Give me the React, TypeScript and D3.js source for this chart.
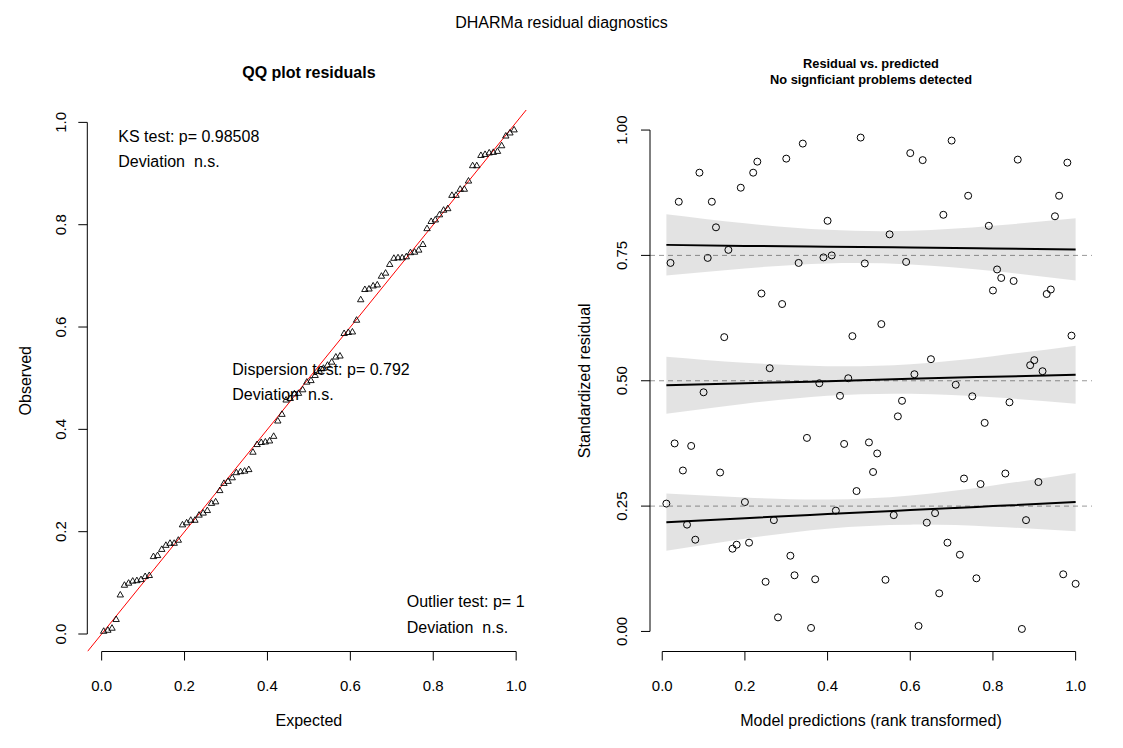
import React from 'react';
import * as d3 from 'd3';

// Rank-transformed model predictions and scaled residuals
const predictions = [
  0.01, 0.02, 0.03, 0.04, 0.05, 0.06, 0.07, 0.08, 0.09, 0.10,
  0.11, 0.12, 0.13, 0.14, 0.15, 0.16, 0.17, 0.18, 0.19, 0.20,
  0.21, 0.22, 0.23, 0.24, 0.25, 0.26, 0.27, 0.28, 0.29, 0.30,
  0.31, 0.32, 0.33, 0.34, 0.35, 0.36, 0.37, 0.38, 0.39, 0.40,
  0.41, 0.42, 0.43, 0.44, 0.45, 0.46, 0.47, 0.48, 0.49, 0.50,
  0.51, 0.52, 0.53, 0.54, 0.55, 0.56, 0.57, 0.58, 0.59, 0.60,
  0.61, 0.62, 0.63, 0.64, 0.65, 0.66, 0.67, 0.68, 0.69, 0.70,
  0.71, 0.72, 0.73, 0.74, 0.75, 0.76, 0.77, 0.78, 0.79, 0.80,
  0.81, 0.82, 0.83, 0.84, 0.85, 0.86, 0.87, 0.88, 0.89, 0.90,
  0.91, 0.92, 0.93, 0.94, 0.95, 0.96, 0.97, 0.98, 0.99, 1.00,
];
const residuals = [
  0.255, 0.735, 0.375, 0.857, 0.321, 0.213, 0.370, 0.183, 0.915, 0.477,
  0.745, 0.857, 0.806, 0.317, 0.587, 0.761, 0.165, 0.173, 0.885, 0.258,
  0.177, 0.915, 0.937, 0.674, 0.099, 0.525, 0.222, 0.028, 0.653, 0.943,
  0.151, 0.112, 0.735, 0.973, 0.386, 0.007, 0.104, 0.495, 0.746, 0.819,
  0.750, 0.241, 0.470, 0.374, 0.505, 0.589, 0.280, 0.985, 0.734, 0.377,
  0.318, 0.355, 0.613, 0.103, 0.792, 0.232, 0.429, 0.460, 0.737, 0.954,
  0.513, 0.011, 0.940, 0.217, 0.543, 0.236, 0.076, 0.831, 0.177, 0.979,
  0.492, 0.153, 0.305, 0.869, 0.469, 0.106, 0.294, 0.416, 0.809, 0.680,
  0.722, 0.705, 0.315, 0.457, 0.699, 0.941, 0.005, 0.222, 0.531, 0.541,
  0.298, 0.519, 0.673, 0.682, 0.828, 0.869, 0.114, 0.935, 0.590, 0.095,
];

// Quantile regression fits with confidence bands
const bandX = [0.01, 0.2, 0.4, 0.6, 0.8, 1.0];
const q25Fit = [0.218, 0.226, 0.234, 0.242, 0.250, 0.258];
const q25Lower = [0.161, 0.185, 0.205, 0.213, 0.209, 0.200];
const q25Upper = [0.275, 0.267, 0.263, 0.271, 0.291, 0.316];
const q50Fit = [0.491, 0.495, 0.499, 0.504, 0.508, 0.512];
const q50Lower = [0.434, 0.454, 0.470, 0.474, 0.467, 0.454];
const q50Upper = [0.548, 0.536, 0.529, 0.533, 0.549, 0.570];
const q75Fit = [0.771, 0.769, 0.7675, 0.766, 0.764, 0.762];
const q75Lower = [0.710, 0.724, 0.734, 0.732, 0.719, 0.700];
const q75Upper = [0.832, 0.814, 0.801, 0.799, 0.809, 0.824];
const quantileLevels = [0.25, 0.5, 0.75];

const unitTicks = [0, 0.2, 0.4, 0.6, 0.8, 1.0];
const unitTickLabels = ['0.0', '0.2', '0.4', '0.6', '0.8', '1.0'];
const residTicks = [0, 0.25, 0.5, 0.75, 1.0];
const residTickLabels = ['0.00', '0.25', '0.50', '0.75', '1.00'];

const ksText = ['KS test: p= 0.98508', 'Deviation  n.s.'];
const dispText = ['Dispersion test: p= 0.792', 'Deviation  n.s.'];
const outText = ['Outlier test: p= 1', 'Deviation  n.s.'];

const FONT = '"Liberation Sans", Arial, Helvetica, sans-serif';

function rExtent(vals: number[]): [number, number] {
  const [a, b] = d3.extent(vals) as [number, number];
  const pad = (b - a) * 0.04;
  return [a - pad, b + pad];
}

export default function App() {
  const W = 1123, H = 748;
  const top = 110, bottom = 651.5;
  const L = { x0: 87.3, x1: 530.5 };
  const R = { x0: 650, x1: 1092 };

  const n = residuals.length;
  const observed = [...residuals].sort(d3.ascending);
  const expected = observed.map((_, i) => (i + 0.5) / n);

  const lx = d3.scaleLinear().domain(rExtent(expected)).range([L.x0, L.x1]);
  const ly = d3.scaleLinear().domain(rExtent(observed)).range([bottom, top]);
  const rx = d3.scaleLinear().domain(rExtent(predictions)).range([R.x0, R.x1]);
  const ry = d3.scaleLinear().domain(rExtent([0, 1])).range([bottom, top]);

  const tri = (() => {
    const s = 6.4, h = s * 0.866;
    return `M0,${-h * 2 / 3}L${s / 2},${h / 3}L${-s / 2},${h / 3}Z`;
  })();

  // red 1:1 line clipped to left plot region
  const [dx0, dx1] = lx.domain();
  const [dy0, dy1] = ly.domain();
  const a0 = Math.max(dx0, dy0), a1 = Math.min(dx1, dy1);

  const bands = [
    { lo: q25Lower, hi: q25Upper, fit: q25Fit },
    { lo: q50Lower, hi: q50Upper, fit: q50Fit },
    { lo: q75Lower, hi: q75Upper, fit: q75Fit },
  ];
  const area = d3.area<number>()
    .x((_, i) => rx(bandX[i]))
    .curve(d3.curveNatural);
  const line = d3.line<number>()
    .x((_, i) => rx(bandX[i]))
    .y((d) => ry(d))
    .curve(d3.curveNatural);

  const tickLen = 9;
  const pre = { whiteSpace: 'pre' as const };

  return (
    <svg width={W} height={H} style={{ position: 'absolute', left: 0, top: 0, background: '#fff' }}
      fontFamily={FONT}>
      <defs>
        <clipPath id="clipL"><rect x={L.x0} y={top} width={L.x1 - L.x0} height={bottom - top} /></clipPath>
        <clipPath id="clipR"><rect x={R.x0} y={top} width={R.x1 - R.x0} height={bottom - top} /></clipPath>
      </defs>

      <text x={561.5} y={27.5} textAnchor="middle" fontSize={16}>DHARMa residual diagnostics</text>

      {/* ---------- Left: QQ plot ---------- */}
      <text x={(L.x0 + L.x1) / 2} y={78} textAnchor="middle" fontSize={16} fontWeight="bold">QQ plot residuals</text>

      <line x1={lx(a0)} y1={ly(a0)} x2={lx(a1)} y2={ly(a1)} stroke="#ff0000" strokeWidth={1} clipPath="url(#clipL)" />

      {observed.map((o, i) => (
        <path key={i} d={tri} transform={`translate(${lx(expected[i])},${ly(o)})`}
          fill="none" stroke="#000" strokeWidth={0.9} />
      ))}

      {/* x axis */}
      <line x1={lx(0)} x2={lx(1)} y1={bottom} y2={bottom} stroke="#000" />
      {unitTicks.map((t, i) => (
        <g key={i}>
          <line x1={lx(t)} x2={lx(t)} y1={bottom} y2={bottom + tickLen} stroke="#000" />
          <text x={lx(t)} y={690.5} textAnchor="middle" fontSize={15}>{unitTickLabels[i]}</text>
        </g>
      ))}
      {/* y axis */}
      <line x1={L.x0} x2={L.x0} y1={ly(0)} y2={ly(1)} stroke="#000" />
      {unitTicks.map((t, i) => (
        <g key={i}>
          <line x1={L.x0 - tickLen} x2={L.x0} y1={ly(t)} y2={ly(t)} stroke="#000" />
          <text transform={`translate(${65.5},${ly(t)}) rotate(-90)`} textAnchor="middle" fontSize={15}>{unitTickLabels[i]}</text>
        </g>
      ))}
      <text x={(L.x0 + L.x1) / 2} y={726} textAnchor="middle" fontSize={16}>Expected</text>
      <text transform={`translate(30.5,${(top + bottom) / 2}) rotate(-90)`} textAnchor="middle" fontSize={16}>Observed</text>

      <g fontSize={16}>
        <text x={118.3} y={142.3} xmlSpace="preserve" style={pre}>{ksText[0]}</text>
        <text x={118.3} y={166.7} xmlSpace="preserve" style={pre}>{ksText[1]}</text>
        <text x={232.3} y={375} xmlSpace="preserve" style={pre}>{dispText[0]}</text>
        <text x={232.3} y={400} xmlSpace="preserve" style={pre}>{dispText[1]}</text>
        <text x={406.7} y={607.3} xmlSpace="preserve" style={pre}>{outText[0]}</text>
        <text x={406.7} y={632.7} xmlSpace="preserve" style={pre}>{outText[1]}</text>
      </g>

      {/* ---------- Right: residual vs predicted ---------- */}
      <text x={(R.x0 + R.x1) / 2} y={67.5} textAnchor="middle" fontSize={12.8} fontWeight="bold">Residual vs. predicted</text>
      <text x={(R.x0 + R.x1) / 2} y={83.5} textAnchor="middle" fontSize={12.8} fontWeight="bold">No signficiant problems detected</text>

      <g clipPath="url(#clipR)">
        {predictions.map((p, i) => (
          <circle key={i} cx={rx(p)} cy={ry(residuals[i])} r={3.5} fill="none" stroke="#000" strokeWidth={1} />
        ))}
        {quantileLevels.map((q, i) => (
          <line key={i} x1={R.x0} x2={R.x1} y1={ry(q)} y2={ry(q)} stroke="#999" strokeWidth={1} strokeDasharray="5,4" />
        ))}
        {bands.map((b, i) => (
          <path key={i}
            d={area.y0((_, j) => ry(b.lo[j])).y1((_, j) => ry(b.hi[j]))(bandX) || ''}
            fill="rgba(0,0,0,0.11)" stroke="none" />
        ))}
        {bands.map((b, i) => (
          <path key={i} d={line(b.fit) || ''} fill="none" stroke="#000" strokeWidth={2} />
        ))}
      </g>

      {/* x axis */}
      <line x1={rx(0)} x2={rx(1)} y1={bottom} y2={bottom} stroke="#000" />
      {unitTicks.map((t, i) => (
        <g key={i}>
          <line x1={rx(t)} x2={rx(t)} y1={bottom} y2={bottom + tickLen} stroke="#000" />
          <text x={rx(t)} y={690.5} textAnchor="middle" fontSize={15}>{unitTickLabels[i]}</text>
        </g>
      ))}
      {/* y axis */}
      <line x1={R.x0} x2={R.x0} y1={ry(0)} y2={ry(1)} stroke="#000" />
      {residTicks.map((t, i) => (
        <g key={i}>
          <line x1={R.x0 - tickLen} x2={R.x0} y1={ry(t)} y2={ry(t)} stroke="#000" />
          <text transform={`translate(${627},${ry(t)}) rotate(-90)`} textAnchor="middle" fontSize={15}>{residTickLabels[i]}</text>
        </g>
      ))}
      <text x={(R.x0 + R.x1) / 2} y={726} textAnchor="middle" fontSize={16}>Model predictions (rank transformed)</text>
      <text transform={`translate(589.5,${(top + bottom) / 2}) rotate(-90)`} textAnchor="middle" fontSize={16}>Standardized residual</text>
    </svg>
  );
}
